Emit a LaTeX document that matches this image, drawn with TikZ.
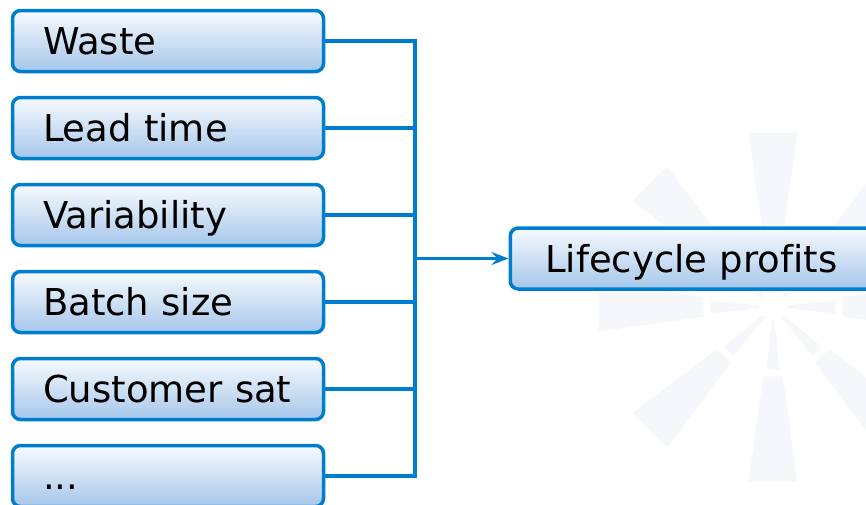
\documentclass[tikz,border=0pt]{standalone}
\usepackage{fontspec}
\setmainfont[Ligatures=NoCommon]{DejaVu Sans}
\usetikzlibrary{arrows.meta}
\definecolor{edgeblue}{RGB}{0,126,206}
\definecolor{topfill}{RGB}{247,250,254}
\definecolor{botfill}{RGB}{166,198,234}
\definecolor{burstcol}{RGB}{245,247,251}
\begin{document}
\begin{tikzpicture}[x=1pt,y=-1pt,
  box/.style={draw=edgeblue, line width=3.5pt, rounded corners=8pt,
    top color=topfill, bottom color=botfill,
    minimum height=61pt, inner ysep=0pt, inner xsep=30.5pt,
    text height=27pt, text depth=0pt, align=left,
    font=\fontsize{37}{44}\selectfont},
  leftbox/.style={box, text width=250pt, minimum width=311pt},
  conn/.style={draw=edgeblue, line width=3.5pt},
  burst/.style={fill=burstcol}]
\useasboundingbox (0,0) rectangle (866,504);
\clip (0,0) rectangle (866,504);
% faint starburst
\foreach \a in {0,45,...,315}{
  \fill[burst, shift={(773,307)}] (\a-8:70) -- (\a-8:176) -- (\a+8:176) -- (\a+8:70) -- cycle;
  \fill[burst, shift={(773,307)}] (\a-6:14) -- (\a-6:63) -- (\a+6:63) -- (\a+6:14) -- cycle;
}
% boxes
\node[leftbox] (b1) at (168,41) {Waste};
\node[leftbox] (b2) at (168,128) {Lead time};
\node[leftbox] (b3) at (168,215) {Variability};
\node[leftbox] (b4) at (168,302) {Batch size};
\node[leftbox] (b5) at (168,389) {Customer sat};
\node[leftbox] (b6) at (168,476) {...};
\node[box, anchor=west, text width=330pt, minimum width=400pt] (r) at (508.5,258.5) {Lifecycle profits};
% connectors
\coordinate (spine) at (415,0);
\foreach \b in {b1,b2,b3,b4,b5,b6}{
  \draw[conn] (\b.east) -- (\b.east -| spine);
}
\draw[conn, line cap=rect] (b1.east -| spine) -- (b6.east -| spine);
\draw[conn, -{Stealth[length=17pt,width=13pt,inset=6pt]}] (r.west -| spine) -- (r.west);
\end{tikzpicture}
\end{document}
